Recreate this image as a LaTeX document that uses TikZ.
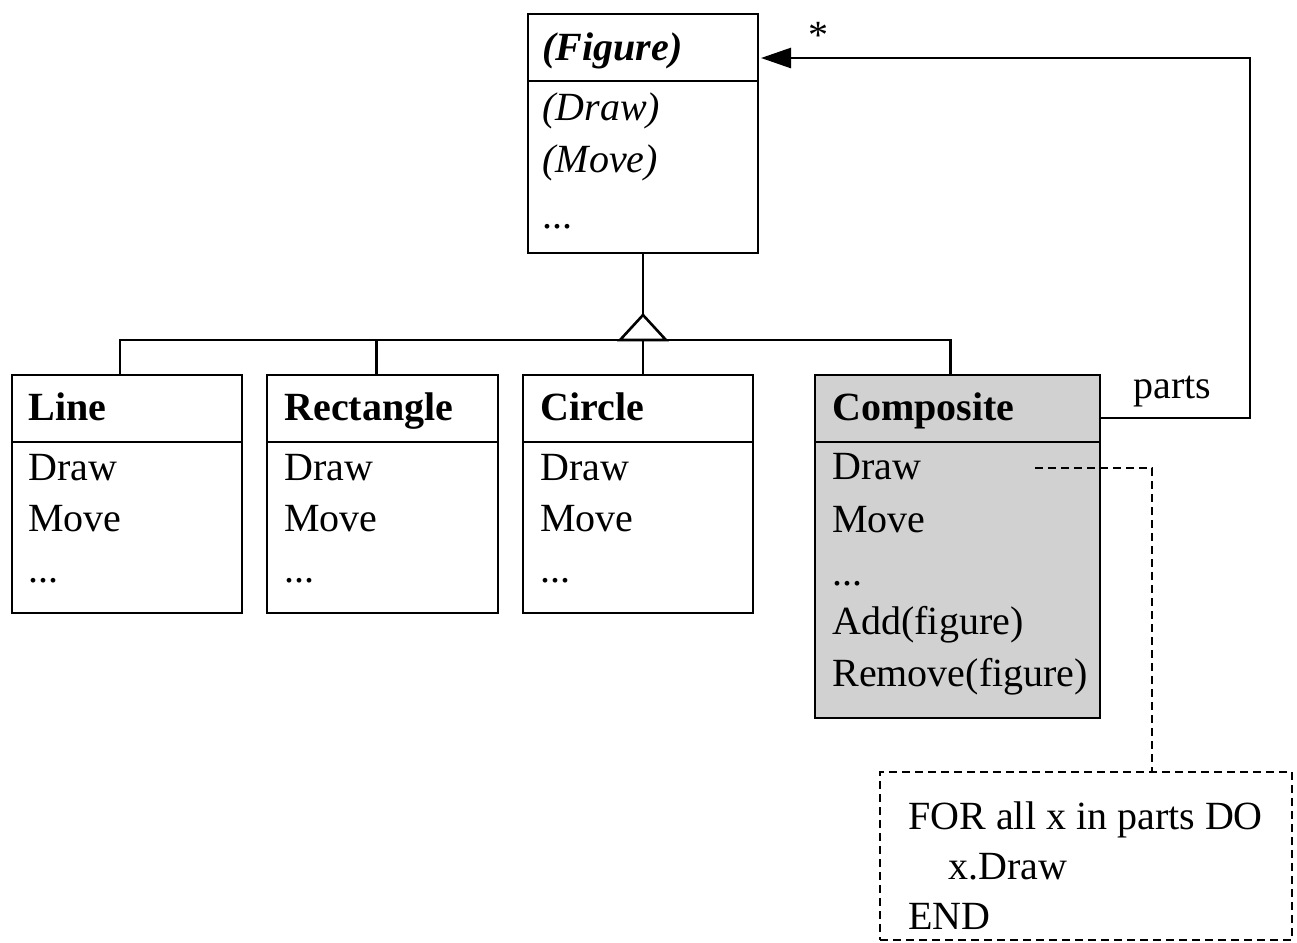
\documentclass[tikz,border=0pt]{standalone}
\usepackage{fontspec}
\setmainfont{Liberation Serif}
\usetikzlibrary{arrows.meta,calc}
\definecolor{compfill}{gray}{0.82}
\begin{document}
\begin{tikzpicture}[x=0.5pt,y=-0.5pt,
  every node/.style={font=\fontsize{20}{24}\selectfont},
  box/.style={draw, line width=1.3pt, inner sep=0pt, outer sep=0pt, anchor=north west},
  txt/.style={anchor=base west, inner sep=0pt},
  ttl/.style={txt, font=\fontsize{20}{24}\selectfont\bfseries},
  rule/.style={line width=1.3pt},
  notestyle/.style={dash pattern=on 4pt off 2.5pt, line width=0.9pt}]
\useasboundingbox (0,0) rectangle (1297,943);

% abstract class
\node[box, minimum width=115pt, minimum height=119.5pt] (figure) at (528,14) {};
\draw[rule] ($(figure.north west)+(0,67)$) -- ($(figure.north east)+(0,67)$);
\node[txt, font=\fontsize{20}{24}\selectfont\bfseries\itshape] (figT) at (542,60) {(Figure)};
\node[txt, font=\fontsize{20}{24}\selectfont\itshape] (figD) at (542,120) {(Draw)};
\node[txt, font=\fontsize{20}{24}\selectfont\itshape] (figM) at (542,172) {(Move)};
\node[txt] (figE) at (542,228) {...};

% concrete classes
\node[box, minimum width=115pt, minimum height=119pt] (line) at (12,375) {};
\node[box, minimum width=115.5pt, minimum height=119pt] (rect) at (267,375) {};
\node[box, minimum width=115pt, minimum height=119pt] (circle) at (523,375) {};
\node[box, fill=compfill, minimum width=142.5pt, minimum height=171.5pt] (composite) at (815,375) {};
\foreach \n in {line,rect,circle,composite}
  \draw[rule] ($(\n.north west)+(0,67)$) -- ($(\n.north east)+(0,67)$);

\node[ttl] (lineT) at (28,420) {Line};
\node[txt] (lineD) at (28,480) {Draw};
\node[txt] (lineM) at (28,531) {Move};
\node[txt] (lineE) at (28,582) {...};

\node[ttl] (rectT) at (284,420) {Rectangle};
\node[txt] (rectD) at (284,480) {Draw};
\node[txt] (rectM) at (284,531) {Move};
\node[txt] (rectE) at (284,582) {...};

\node[ttl] (circT) at (540,420) {Circle};
\node[txt] (circD) at (540,480) {Draw};
\node[txt] (circM) at (540,531) {Move};
\node[txt] (circE) at (540,582) {...};

\node[ttl] (compT) at (832,420) {Composite};
\node[txt] (compD) at (832,479) {Draw};
\node[txt] (compM) at (832,532) {Move};
\node[txt] (compE) at (832,585) {...};
\node[txt] (compA) at (832,634) {Add(figure)};
\node[txt] (compR) at (832,686) {Remove(figure)};

% inheritance
\coordinate (apex) at (643,315);
\coordinate (tbase) at (643,340);
\draw[rule] (figure.south) -- (apex);
\draw[rule] ($(line.north)+(-7,0)$) |- ($(composite.north |- tbase)+(-7,0)$) -- ($(composite.north)+(-7,0)$);
\draw[rule] ($(rect.north)+(-6,0)$) -- ($(rect.north |- tbase)+(-6,0)$);
\draw[rule] (tbase) -- (tbase |- circle.north);
\draw[rule, fill=white, line join=miter] (apex) -- ++(-23,25) -- ++(46,0) -- cycle;

% aggregation back to the abstract class
\coordinate (corner) at (1250,58);
\draw[rule, -{Triangle[length=15pt,width=10pt]}, shorten >=1.5pt]
  ($(composite.north east)+(0,43)$) -| (corner) -- (figure.east |- corner);
\node[anchor=north, inner sep=0pt] (mult) at (818,22) {*};
\node[txt] (partsL) at (1133,398) {parts};

% implementation note
\node[box, notestyle, minimum width=206pt, minimum height=84pt] (note) at (880,772) {};
\coordinate (dstart) at (1035,468);
\draw[notestyle] (dstart) -| ($(note.north)+(66,0)$);
\node[txt] (noteA) at (908,829) {FOR all x in parts DO};
\node[txt] (noteB) at (948,879) {x.Draw};
\node[txt] (noteC) at (908,929) {END};
\end{tikzpicture}
\end{document}
